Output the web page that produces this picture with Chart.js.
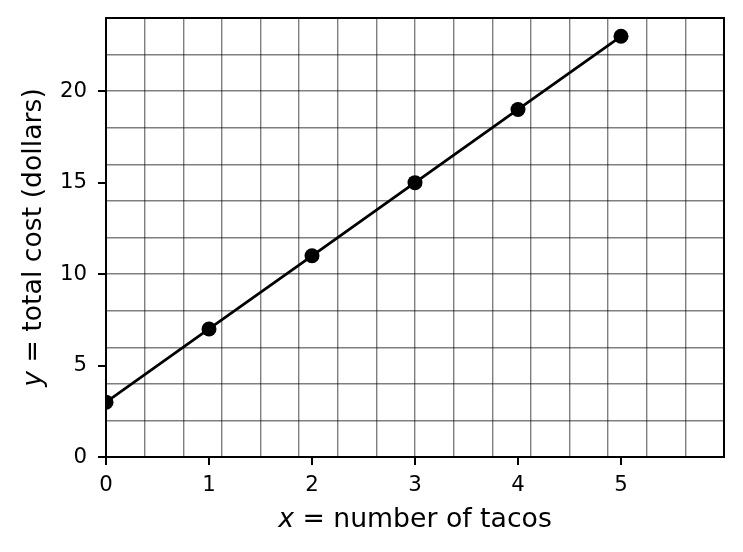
<!DOCTYPE html>
<html>
<head>
<meta charset="utf-8">
<script src="https://cdn.jsdelivr.net/npm/chart.js@4.4.0/dist/chart.umd.min.js"></script>
<style>
  body { margin: 0; background: #fff; }
</style>
</head>
<body>
<canvas id="chart1" width="743" height="552"></canvas>
<script>
// data
const tacos = [0, 1, 2, 3, 4, 5];
const cost = [3, 7, 11, 15, 19, 23];
const xTicks = [0, 1, 2, 3, 4, 5];
const yTicks = [0, 5, 10, 15, 20];

const tickFont = { family: 'DejaVu Sans', size: 21.3 };
const labelSize = 26.7;

// axis titles with an italic variable, like matplotlib mathtext
const mixedTitles = {
    id: 'mixedTitles',
    afterDraw(chart) {
        const c = chart.ctx;
        const area = chart.chartArea;
        const italic = 'italic ' + labelSize + 'px "DejaVu Sans"';
        const normal = labelSize + 'px "DejaVu Sans"';

        const drawLabel = (v, rest) => {
            c.font = italic;
            const w1 = c.measureText(v).width;
            c.font = normal;
            const w2 = c.measureText(rest).width;
            let x = -(w1 + w2) / 2;
            c.fillStyle = '#000';
            c.textBaseline = 'alphabetic';
            c.textAlign = 'left';
            c.font = italic;
            c.fillText(v, x, 0);
            c.font = normal;
            c.fillText(rest, x + w1, 0);
        };

        c.save();
        c.translate((area.left + area.right) / 2, 527);
        drawLabel('x', ' = number of tacos');
        c.restore();

        c.save();
        c.translate(40.5, (area.top + area.bottom) / 2);
        c.rotate(-Math.PI / 2);
        drawLabel('y', ' = total cost (dollars)');
        c.restore();
    }
};

const ctx = document.querySelector('#chart1');

new Chart(ctx, {
    type: 'scatter',
    data: {
        datasets: [{
            data: tacos.map((t, i) => ({ x: t, y: cost[i] })),
            showLine: true,
            borderColor: '#000',
            backgroundColor: '#000',
            borderWidth: 2.8,
            pointRadius: 7.5,
            pointBorderWidth: 0,
            clip: 0
        }]
    },
    options: {
        responsive: false,
        animation: false,
        layout: {
            padding: { top: 18, right: 19, left: 0, bottom: 0 }
        },
        plugins: {
            legend: { display: false },
            tooltip: { enabled: false }
        },
        scales: {
            x: {
                type: 'linear',
                position: 'bottom',
                min: 0,
                max: 6,
                afterBuildTicks: (scale) => { scale.ticks = xTicks.map(v => ({ value: v })); },
                afterFit: (scale) => {
                    scale.height = 95;
                    scale.paddingLeft = 0;
                    scale.paddingRight = 0;
                },
                ticks: {
                    color: '#000',
                    font: tickFont,
                    padding: 8,
                    maxRotation: 0
                },
                grid: {
                    drawOnChartArea: false,
                    tickLength: 8,
                    color: '#000',
                    lineWidth: 2
                },
                border: { display: true, color: '#000', width: 2 }
            },
            y: {
                type: 'linear',
                position: 'left',
                min: 0,
                max: 24,
                afterBuildTicks: (scale) => { scale.ticks = yTicks.map(v => ({ value: v })); },
                afterFit: (scale) => {
                    scale.width = 106;
                    scale.paddingTop = 0;
                    scale.paddingBottom = 0;
                },
                ticks: {
                    color: '#000',
                    font: tickFont,
                    padding: 11
                },
                grid: {
                    drawOnChartArea: false,
                    tickLength: 8,
                    color: '#000',
                    lineWidth: 2
                },
                border: { display: true, color: '#000', width: 2 }
            },
            // the grid does not follow the tick labels
            xGrid: {
                type: 'linear',
                position: 'top',
                min: 0,
                max: 6,
                afterFit: (scale) => {
                    scale.height = 0;
                    scale.paddingLeft = 0;
                    scale.paddingRight = 0;
                },
                ticks: { display: false, stepSize: 0.375 },
                grid: {
                    drawTicks: false,
                    color: 'rgba(0,0,0,0.5)',
                    lineWidth: 1.4
                },
                border: { display: true, color: '#000', width: 2 }
            },
            yGrid: {
                type: 'linear',
                position: 'right',
                min: 0,
                max: 24,
                afterFit: (scale) => {
                    scale.width = 0;
                    scale.paddingTop = 0;
                    scale.paddingBottom = 0;
                },
                ticks: { display: false, stepSize: 2 },
                grid: {
                    drawTicks: false,
                    color: 'rgba(0,0,0,0.5)',
                    lineWidth: 1.4
                },
                border: { display: true, color: '#000', width: 2 }
            }
        }
    },
    plugins: [mixedTitles]
});
</script>
</body>
</html>
